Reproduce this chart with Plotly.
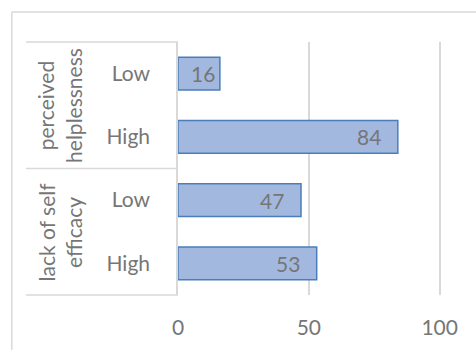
import plotly.graph_objects as go

groups = ["perceived<br>helplessness", "lack of self<br>efficacy"]
levels = ["Low", "High", "Low", "High"]
group_of = [0, 0, 1, 1]
values = [16, 84, 47, 53]
x_ticks = [0, 50, 100]

keys = [f"{groups[g]}|{l}" for g, l in zip(group_of, levels)]

FONT = "Lato, Liberation Sans, sans-serif"
FS = 21
GRAY = "#767676"
LINE = "#d9d9d9"

fig = go.Figure()
fig.add_trace(go.Bar(
    x=values, y=keys, orientation="h",
    marker=dict(color="#a3b8df", line=dict(color="#4a7ebb", width=1.5)),
    hoverinfo="skip",
))

annotations = []
for k, v in zip(keys, values):
    annotations.append(dict(
        x=v, y=k, xref="x", yref="y", text=str(v), showarrow=False,
        xanchor="right", xshift=-15 if v > 30 else -3,
        font=dict(family=FONT, size=FS, color=GRAY),
    ))

# group labels (rotated), placed at mean of their categories
for gi, g in enumerate(groups):
    idx = [i for i, gg in enumerate(group_of) if gg == gi]
    annotations.append(dict(
        x=-0.45, xref="paper", y=sum(idx) / len(idx), yref="y",
        text=g, showarrow=False, textangle=-90,
        font=dict(family=FONT, size=FS, color=GRAY),
        xanchor="center", yanchor="middle",
    ))

shapes = []
# table horizontal dividers
for yy in [0, 0.5, 1]:
    shapes.append(dict(type="line", xref="paper", yref="paper",
                       x0=-0.578, x1=0, y0=yy, y1=yy,
                       line=dict(color=LINE, width=1.5)))
# outer chart border (top & left)
shapes.append(dict(type="line", xref="paper", yref="paper",
                   x0=-0.632, x1=1.2, y0=1.1186, y1=1.1186,
                   line=dict(color=LINE, width=1.5)))
shapes.append(dict(type="line", xref="paper", yref="paper",
                   x0=-0.632, x1=-0.632, y0=-0.3, y1=1.1186,
                   line=dict(color=LINE, width=1.5)))

fig.update_layout(
    width=476, height=350,
    margin=dict(l=177.5, r=35.2, t=42, b=55),
    paper_bgcolor="white", plot_bgcolor="white",
    bargap=0.485,
    showlegend=False,
    annotations=annotations,
    shapes=shapes,
    font=dict(family=FONT, size=FS, color=GRAY),
    xaxis=dict(range=[0, 100.5], tickvals=x_ticks, showgrid=True,
               gridcolor=LINE, gridwidth=1.5, zeroline=False,
               showline=False, ticks="", ticklabelstandoff=18,
               tickfont=dict(family=FONT, size=FS, color=GRAY),
               fixedrange=True),
    yaxis=dict(type="category", categoryorder="array", categoryarray=keys,
               autorange="reversed", tickvals=keys, ticktext=levels,
               showline=True, linecolor=LINE, linewidth=1.5,
               showgrid=False, ticks="", ticklabelstandoff=22,
               tickfont=dict(family=FONT, size=FS, color=GRAY),
               fixedrange=True),
)

fig.write_html("out.html")
